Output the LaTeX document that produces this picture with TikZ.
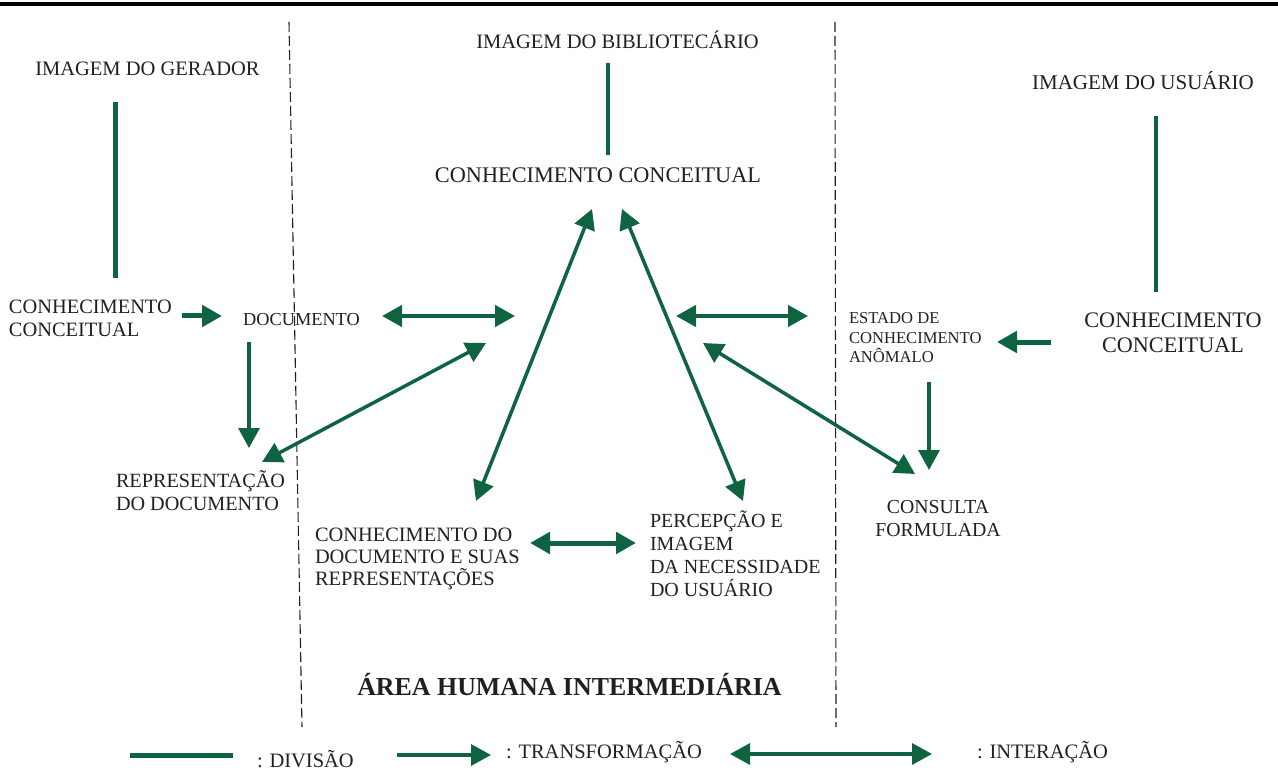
\documentclass[tikz,border=0pt]{standalone}
\usepackage{fontspec}
\setmainfont{Liberation Serif}
\usetikzlibrary{arrows.meta}
\definecolor{dgreen}{RGB}{14,99,64}
\definecolor{ink}{RGB}{35,31,32}
\begin{document}
\begin{tikzpicture}[x=1pt,y=-1pt,
  txt/.style={inner sep=0pt, outer sep=0pt, text=ink, align=left},
  ctxt/.style={inner sep=0pt, outer sep=0pt, text=ink, align=center},
  divline/.style={draw=dgreen, line width=5pt},
  tip/.tip={Triangle[length=20pt,width=21pt]},
  trans/.style={draw=dgreen, -tip},
  inter/.style={draw=dgreen, tip-tip},
  sep/.style={draw=ink, line width=1.1pt, dash pattern=on 10pt off 4pt},
]
\useasboundingbox (0,0) rectangle (1278,770);
\fill[white] (0,0) rectangle (1278,770);

% top rule and separators
\draw[black, line width=4pt] (0,4.5) -- (1278,4.5);
\draw[sep] (289,22) -- (302,727);
\draw[sep] (835,22) -- (836,727);

% texts
\node[txt, font=\fontsize{20.5}{24}\selectfont, anchor=base] (gerimg) at (147.5,76) {IMAGEM DO GERADOR};
\node[txt, font=\fontsize{20.5}{24}\selectfont, anchor=base] (bibimg) at (617.5,48.3) {IMAGEM DO BIBLIOTECÁRIO};
\node[txt, font=\fontsize{22.3}{24}\selectfont, anchor=base] (bibcc) at (598,183) {CONHECIMENTO CONCEITUAL};
\node[txt, font=\fontsize{21}{24}\selectfont, anchor=base] (usrimg) at (1143,90) {IMAGEM DO USUÁRIO};
\node[txt, font=\fontsize{20.4}{23}\selectfont, anchor=west] (gercc) at (9,318.75) {CONHECIMENTO\\CONCEITUAL};
\node[txt, font=\fontsize{18.3}{23}\selectfont, anchor=base] (doc) at (301.5,326) {DOCUMENTO};
\node[txt, font=\fontsize{20.2}{23}\selectfont, anchor=west] (rep) at (116,490.4) {REPRESENTAÇÃO\\DO DOCUMENTO};
\node[txt, font=\fontsize{16.6}{19.5}\selectfont, anchor=west] (ask) at (849,338) {ESTADO DE\\CONHECIMENTO\\ANÔMALO};
\node[ctxt, font=\fontsize{22.2}{25}\selectfont] (usrcc) at (1173,333) {CONHECIMENTO\\CONCEITUAL};
\node[ctxt, font=\fontsize{19.8}{22.5}\selectfont] (query) at (938,518.75) {CONSULTA\\FORMULADA};
\node[txt, font=\fontsize{20.4}{22}\selectfont, anchor=west] (knowdoc) at (315,558.7) {CONHECIMENTO DO\\DOCUMENTO E SUAS\\REPRESENTAÇÕES};
\node[txt, font=\fontsize{20}{23}\selectfont, anchor=west] (percep) at (650,553.9) {PERCEPÇÃO E\\IMAGEM\\DA NECESSIDADE\\DO USUÁRIO};
\node[txt, font=\fontsize{25.9}{28}\selectfont\bfseries, anchor=base] (area) at (569.5,695.5) {ÁREA HUMANA INTERMEDIÁRIA};

% division lines
\coordinate (d1a) at (115.5,102); \coordinate (d1b) at (115.5,278);
\coordinate (d2a) at (608,63);    \coordinate (d2b) at (608,155);
\coordinate (d3a) at (1156,116);  \coordinate (d3b) at (1156,292);
\draw[divline] (d1a) -- (d1b);
\draw[divline, line width=4.7pt] (d2a) -- (d2b);
\draw[divline, line width=4.7pt] (d3a) -- (d3b);

% arrow end points
\coordinate (p1s) at (182,316);  \coordinate (p1e) at (222,316);
\coordinate (p2s) at (382,316);  \coordinate (p2e) at (515,316);
\coordinate (p3s) at (249,342);  \coordinate (p3e) at (249,448);
\coordinate (p4s) at (262,462);  \coordinate (p4e) at (486,343);
\coordinate (p5s) at (476,501);  \coordinate (p5e) at (592,209);
\coordinate (p6s) at (622,209);  \coordinate (p6e) at (743,501);
\coordinate (p7s) at (676,316);  \coordinate (p7e) at (808,316);
\coordinate (p8s) at (703,343);  \coordinate (p8e) at (915,474);
\coordinate (p9s) at (1051,342); \coordinate (p9e) at (997,342);
\coordinate (p10s) at (929,382); \coordinate (p10e) at (929,470);
\coordinate (p11s) at (530,543); \coordinate (p11e) at (636,543);

\draw[trans, line width=5pt] (p1s) -- (p1e);
\draw[inter, line width=4.3pt] (p2s) -- (p2e);
\draw[trans, line width=3.3pt] (p3s) -- (p3e);
\draw[inter, line width=3.5pt] (p4s) -- (p4e);
\draw[inter, line width=3.5pt] (p5s) -- (p5e);
\draw[inter, line width=3.5pt] (p6s) -- (p6e);
\draw[inter, line width=4.3pt] (p7s) -- (p7e);
\draw[inter, line width=3.5pt] (p8s) -- (p8e);
\draw[trans, line width=5pt] (p9s) -- (p9e);
\draw[trans, line width=3.5pt] (p10s) -- (p10e);
\draw[inter, line width=5pt] (p11s) -- (p11e);

% legend
\coordinate (l1s) at (130,755); \coordinate (l1e) at (233,755);
\coordinate (l2s) at (397,755); \coordinate (l2e) at (491,755);
\coordinate (l3s) at (730,754); \coordinate (l3e) at (932,754);
\draw[divline] (l1s) -- (l1e);
\draw[trans, line width=3.3pt] (l2s) -- (l2e);
\draw[inter, line width=3.3pt] (l3s) -- (l3e);
\node[txt, font=\fontsize{20.5}{24}\selectfont, anchor=base west] (ldiv) at (257,767) {: DIVISÃO};
\node[txt, font=\fontsize{20.5}{24}\selectfont, anchor=base west] (ltrans) at (506,758) {: TRANSFORMAÇÃO};
\node[txt, font=\fontsize{20.5}{24}\selectfont, anchor=base west] (linter) at (977,758) {: INTERAÇÃO};
\end{tikzpicture}
\end{document}
